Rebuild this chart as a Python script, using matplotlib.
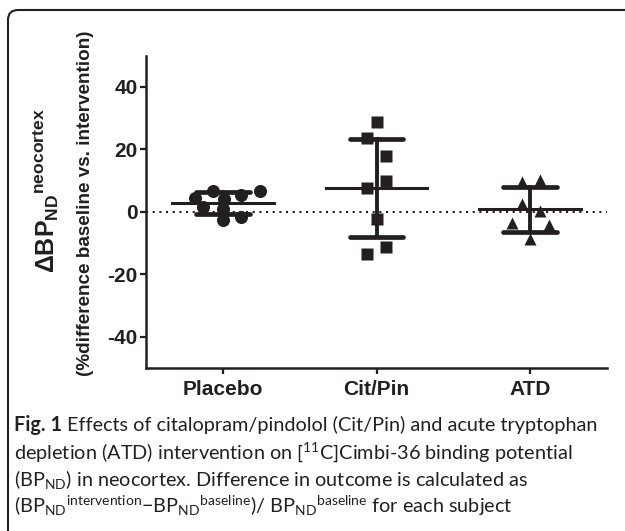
import numpy as np
import matplotlib
matplotlib.use("Agg")
import matplotlib.pyplot as plt
from matplotlib.patches import FancyBboxPatch

plt.rcParams['mathtext.fontset'] = 'custom'
plt.rcParams['mathtext.rm'] = 'Lato'
plt.rcParams['mathtext.bf'] = 'Lato:bold'
plt.rcParams['mathtext.default'] = 'regular'

ink = '#231f20'

# groups and per-subject % change
groups = ['Placebo', 'Cit/Pin', 'ATD']
placebo = [4.3, 6.6, 4.1, 5.3, 6.6, 1.5, 1.0, -2.7, -1.6]
citpin = [28.8, 23.5, 17.8, 9.8, 7.8, -2.4, -11.2, -13.5]
atd = [9.6, 10.1, 2.4, 0.2, -3.7, -4.3, -8.8]
# horizontal scatter of the dots within each column (category units)
placebo_jit = [-0.18, -0.065, 0.01, 0.12, 0.24, -0.13, 0.0, 0.0, 0.12]
citpin_jit = [0.0, -0.065, 0.065, 0.065, -0.065, 0.0, 0.065, -0.065]
atd_jit = [-0.055, 0.065, -0.055, 0.065, -0.12, 0.12, 0.0]
yticks = [-40, -20, 0, 20, 40]

series = [placebo, citpin, atd]
jitters = [placebo_jit, citpin_jit, atd_jit]
markers = ['o', 's', '^']
msizes = [9.4, 9.2, 9.0]

fig = plt.figure(figsize=(6.25, 5.31), dpi=100)
ax = fig.add_axes([0.2336, 0.307, 0.7376, 0.588])

ax.axhline(0, color=ink, lw=1.5, dashes=(1, 2.2), zorder=1)

for i, (vals, jit) in enumerate(zip(series, jitters)):
    x0 = i + 1
    v = np.array(vals)
    m = v.mean()
    sd = v.std(ddof=1)
    ax.plot([x0 - 0.33, x0 + 0.33], [m, m], color=ink, lw=2.2, zorder=2)
    ax.plot([x0, x0], [m - sd, m + sd], color=ink, lw=2.8, zorder=2)
    for y in (m - sd, m + sd):
        ax.plot([x0 - 0.175, x0 + 0.175], [y, y], color=ink, lw=3.4,
                solid_capstyle='round', zorder=2)
    ax.plot(x0 + np.array(jit), v, linestyle='none', marker=markers[i],
            ms=msizes[i], color=ink, mec='none', zorder=3)

ax.set_xlim(0.5, 3.5)
ax.set_ylim(-50, 50)
ax.set_xticks([1, 2, 3])
ax.set_xticklabels(groups, fontfamily='Liberation Sans', fontweight='bold',
                   fontsize=15, color=ink)
ax.set_yticks(yticks)
ax.set_yticklabels([str(t) for t in yticks], fontfamily='Liberation Sans',
                   fontweight='bold', fontsize=15, color=ink)
ax.tick_params(axis='both', length=4.5, width=1.6, color=ink)
ax.tick_params(axis='y', pad=1.5)
ax.tick_params(axis='x', pad=4)
for s in ['top', 'right']:
    ax.spines[s].set_visible(False)
for s in ['left', 'bottom']:
    ax.spines[s].set_linewidth(1.8)
    ax.spines[s].set_color(ink)

# y-axis label, two lines
fig.text(0.0744, 0.640, 'Δ$BP_{ND}{}^{neocortex}$', rotation=90, ha='center',
         va='center', fontfamily='Liberation Sans', fontweight='bold',
         fontsize=18, color=ink)
fig.text(0.137, 0.617, '(%difference baseline vs. intervention)', rotation=90,
         ha='center', va='center', fontfamily='Liberation Sans',
         fontweight='bold', fontsize=13.6, color=ink)

# caption
cap = dict(fontfamily='Lato', fontsize=14.3, color=ink, ha='left', va='baseline')
figlab = fig.text(0.0224, 0.1875, 'Fig. 1 ', fontweight='bold', **cap)
fig.canvas.draw()
bb = figlab.get_window_extent().transformed(fig.transFigure.inverted())
fig.text(bb.x1, 0.1875, 'Effects of citalopram/pindolol (Cit/Pin) and acute tryptophan', **cap)
fig.text(0.0224, 0.1360, 'depletion (ATD) intervention on [$^{11}$C]Cimbi-36 binding potential', **cap)
fig.text(0.0224, 0.0850, '($BP_{ND}$) in neocortex. Difference in outcome is calculated as', **cap)
fig.text(0.0224, 0.0340, '($BP_{ND}{}^{intervention}$−$BP_{ND}{}^{baseline}$)/ $BP_{ND}{}^{baseline}$ for each subject', **cap)

# rounded frame (cut off at the right and bottom as in the source)
box = FancyBboxPatch((0.08, -2.0), 8.0, 7.21, boxstyle='round,pad=0,rounding_size=0.1',
                     transform=fig.dpi_scale_trans, fill=False, ec=ink, lw=1.5)
fig.patches.append(box)

fig.savefig('out.png', dpi=100)
